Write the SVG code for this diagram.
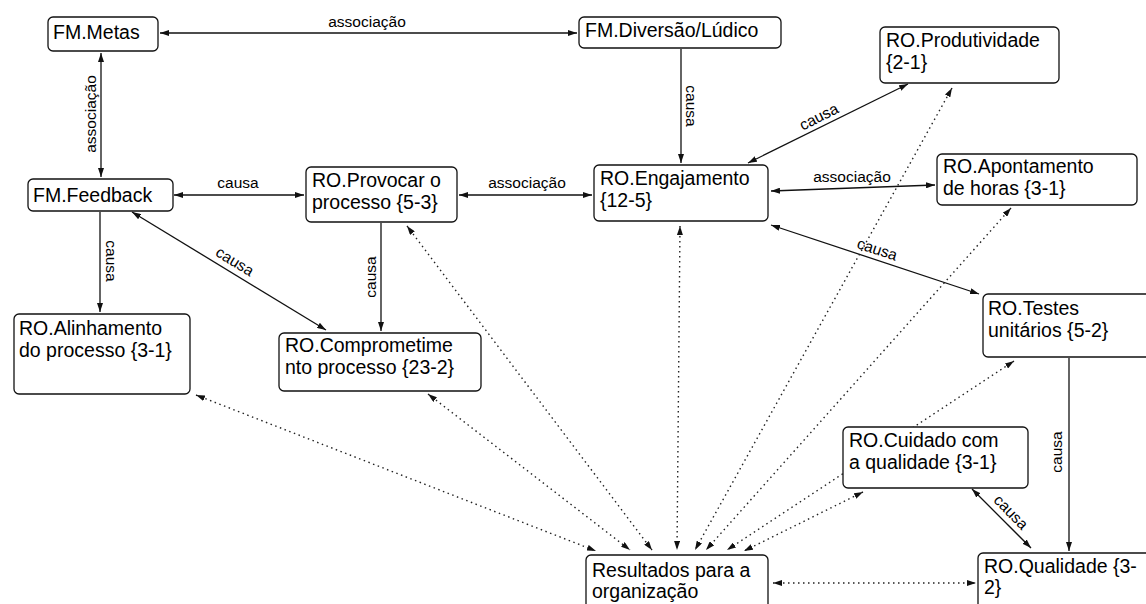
<svg xmlns="http://www.w3.org/2000/svg" width="1146" height="604" viewBox="0 0 1146 604">
  <style>
    .node rect { fill: #ffffff; stroke: #111111; stroke-width: 1.3; }
    .node text { font-family: "Liberation Sans", Arial, sans-serif; font-size: 19.5px; fill: #000000; }
    .link { fill: none; stroke: #111111; stroke-width: 1.3; }
    .dot { fill: none; stroke: #222222; stroke-width: 1.4; stroke-dasharray: 1.5 3.5; }
    .lbl { font-family: "Liberation Sans", Arial, sans-serif; font-size: 15.5px; fill: #000000; text-anchor: middle; }
  </style>
  <defs>
    <marker id="arr" viewBox="0 0 9 6" refX="9" refY="3" markerWidth="9" markerHeight="6" markerUnits="userSpaceOnUse" orient="auto-start-reverse">
      <path d="M0,0 L9,3 L0,6 z" fill="#111111"/>
    </marker>
  </defs>
  <rect width="1146" height="604" fill="#ffffff"/>

  <g id="connectors">
    <!-- solid relations -->
    <line class="link" x1="160" y1="33" x2="577" y2="33" marker-start="url(#arr)" marker-end="url(#arr)"/>
    <text class="lbl" x="367" y="27">associação</text>

    <line class="link" x1="101" y1="53" x2="101" y2="177" marker-start="url(#arr)" marker-end="url(#arr)"/>
    <text class="lbl" transform="translate(96,114) rotate(-90)">associação</text>

    <line class="link" x1="681" y1="49" x2="681" y2="163" marker-end="url(#arr)"/>
    <text class="lbl" transform="translate(686,106) rotate(90)">causa</text>

    <line class="link" x1="748" y1="163" x2="908" y2="84" marker-start="url(#arr)" marker-end="url(#arr)"/>
    <text class="lbl" transform="translate(823,125) rotate(-26.6)" y="-4">causa</text>

    <line class="link" x1="459" y1="195" x2="592" y2="195" marker-start="url(#arr)" marker-end="url(#arr)"/>
    <text class="lbl" x="527" y="188">associação</text>

    <line class="link" x1="771" y1="191" x2="935" y2="185" marker-start="url(#arr)" marker-end="url(#arr)"/>
    <text class="lbl" x="852" y="182">associação</text>

    <line class="link" x1="771" y1="225" x2="979" y2="294" marker-start="url(#arr)" marker-end="url(#arr)"/>
    <text class="lbl" transform="translate(874,259) rotate(18.4)" y="-5">causa</text>

    <line class="link" x1="174" y1="195" x2="304" y2="195" marker-start="url(#arr)" marker-end="url(#arr)"/>
    <text class="lbl" x="238" y="188">causa</text>

    <line class="link" x1="100" y1="212" x2="100" y2="312" marker-end="url(#arr)"/>
    <text class="lbl" transform="translate(106,261) rotate(90)">causa</text>

    <line class="link" x1="381" y1="223" x2="381" y2="331" marker-end="url(#arr)"/>
    <text class="lbl" transform="translate(376,277) rotate(-90)">causa</text>

    <line class="link" x1="132" y1="212" x2="326" y2="330" marker-start="url(#arr)" marker-end="url(#arr)"/>
    <text class="lbl" transform="translate(229,271) rotate(31.4)" y="-6">causa</text>

    <line class="link" x1="1069" y1="358" x2="1069" y2="551" marker-end="url(#arr)"/>
    <text class="lbl" transform="translate(1062,452) rotate(-90)">causa</text>

    <line class="link" x1="972" y1="489" x2="1031" y2="548" marker-start="url(#arr)" marker-end="url(#arr)"/>
    <text class="lbl" transform="translate(1003,520) rotate(45.5)" y="-6">causa</text>

    <!-- dotted links into Resultados para a organização -->
    <line class="dot" x1="196" y1="395" x2="596" y2="551" marker-start="url(#arr)" marker-end="url(#arr)"/>
    <line class="dot" x1="428" y1="394" x2="630" y2="550" marker-start="url(#arr)" marker-end="url(#arr)"/>
    <line class="dot" x1="407" y1="226" x2="652" y2="550" marker-start="url(#arr)" marker-end="url(#arr)"/>
    <line class="dot" x1="680" y1="226" x2="677" y2="550" marker-start="url(#arr)" marker-end="url(#arr)"/>
    <line class="dot" x1="952" y1="88" x2="695" y2="550" marker-start="url(#arr)" marker-end="url(#arr)"/>
    <line class="dot" x1="1011" y1="208" x2="706" y2="550" marker-start="url(#arr)" marker-end="url(#arr)"/>
    <line class="dot" x1="1014" y1="361" x2="727" y2="550" marker-start="url(#arr)" marker-end="url(#arr)"/>
    <line class="dot" x1="863" y1="492" x2="744" y2="551" marker-start="url(#arr)" marker-end="url(#arr)"/>
    <line class="dot" x1="773" y1="583" x2="976" y2="583" marker-start="url(#arr)" marker-end="url(#arr)"/>
  </g>

  <g id="fm-metas" class="node">
    <rect x="48" y="17" width="110" height="34" rx="5"/>
    <text x="53" y="39">FM.Metas</text>
  </g>
  <g id="fm-diversao" class="node">
    <rect x="579" y="17" width="202" height="31" rx="5"/>
    <text x="585" y="37">FM.Diversão/Lúdico</text>
  </g>
  <g id="ro-produtividade" class="node">
    <rect x="880" y="27" width="179" height="56" rx="5"/>
    <text x="886" y="47">RO.Produtividade</text>
    <text x="886" y="69">{2-1}</text>
  </g>
  <g id="fm-feedback" class="node">
    <rect x="28" y="179" width="145" height="32" rx="5"/>
    <text x="33" y="202">FM.Feedback</text>
  </g>
  <g id="ro-provocar" class="node">
    <rect x="306" y="167" width="151" height="55" rx="5"/>
    <text x="312" y="187">RO.Provocar o</text>
    <text x="312" y="209">processo {5-3}</text>
  </g>
  <g id="ro-engajamento" class="node">
    <rect x="594" y="165" width="174" height="56" rx="5"/>
    <text x="600" y="185">RO.Engajamento</text>
    <text x="600" y="207">{12-5}</text>
  </g>
  <g id="ro-apontamento" class="node">
    <rect x="937" y="154" width="200" height="51" rx="5"/>
    <text x="943" y="173">RO.Apontamento</text>
    <text x="943" y="195">de horas {3-1}</text>
  </g>
  <g id="ro-testes" class="node">
    <rect x="983" y="294" width="180" height="63" rx="5"/>
    <text x="988" y="315">RO.Testes</text>
    <text x="988" y="337">unitários {5-2}</text>
  </g>
  <g id="ro-alinhamento" class="node">
    <rect x="14" y="314" width="176" height="80" rx="5"/>
    <text x="19" y="335">RO.Alinhamento</text>
    <text x="19" y="357">do processo {3-1}</text>
  </g>
  <g id="ro-comprometimento" class="node">
    <rect x="279" y="333" width="202" height="58" rx="5"/>
    <text x="285" y="352">RO.Comprometime</text>
    <text x="285" y="374">nto processo {23-2}</text>
  </g>
  <g id="ro-cuidado" class="node">
    <rect x="843" y="427" width="185" height="61" rx="5"/>
    <text x="849" y="447">RO.Cuidado com</text>
    <text x="849" y="469">a qualidade {3-1}</text>
  </g>
  <g id="ro-qualidade" class="node">
    <rect x="978" y="553" width="190" height="70" rx="5"/>
    <text x="984" y="573">RO.Qualidade {3-</text>
    <text x="984" y="594">2}</text>
  </g>
  <g id="resultados" class="node">
    <rect x="586" y="555" width="182" height="70" rx="5"/>
    <text x="592" y="577">Resultados para a</text>
    <text x="592" y="598">organização</text>
  </g>
</svg>
